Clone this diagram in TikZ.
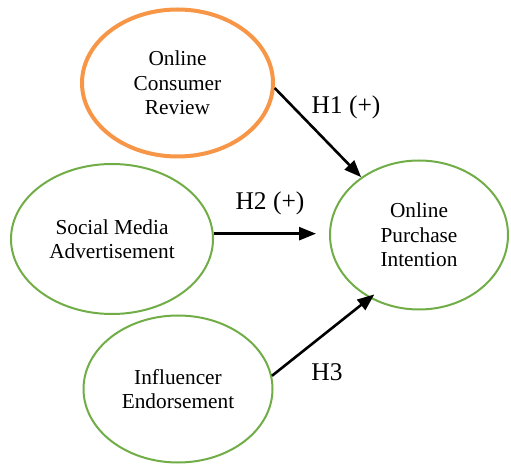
\documentclass[tikz,border=0pt]{standalone}
\usepackage{fontspec}
\setmainfont{Liberation Serif}
\usepackage{xcolor}
\usepackage{tikz}
\usetikzlibrary{shapes.geometric,arrows.meta}

\definecolor{ringorange}{HTML}{F79646}
\definecolor{ringgreen}{HTML}{70AD47}

\tikzset{
  construct/.style={ellipse, draw=ringgreen, line width=2pt, align=center,
    font=\fontsize{21.3}{24.5}\selectfont},
  arr/.style={-{Triangle[length=17pt,width=13pt]}, line width=2.6pt},
  hyp/.style={font=\fontsize{25.5}{28}\selectfont}
}

\begin{document}
\begin{tikzpicture}[x=1pt,y=1pt]
            \useasboundingbox (0,0) rectangle (511,466);

            \node[construct, draw=ringorange, line width=4pt, minimum width=191pt, minimum height=147pt] (ocr) at (177.5,383) {Online\\Consumer\\Review};
            \node[construct, minimum width=202pt, minimum height=150pt] (sma) at (112,227) {Social Media\\Advertisement};
            \node[construct, minimum width=189pt, minimum height=147pt] (ie) at (178,77) {Influencer\\Endorsement};
            \node[construct, minimum width=178pt, minimum height=149pt] (opi) at (419,231) {Online\\Purchase\\Intention};

            \draw[arr] (ocr.-3) -- (opi.135);
            \draw[arr, shorten >=13pt] (sma.3) -- (sma.3 -| opi.west);
            \draw[arr, shorten >=-6pt] (ie.8) -- (opi.232);

            \node[hyp] (h1) at (346,359) {H1 (+)};
            \node[hyp] (h2) at (270,263) {H2 (+)};
            \node[hyp] (h3) at (327,94) {H3};
        \end{tikzpicture}
\end{document}
